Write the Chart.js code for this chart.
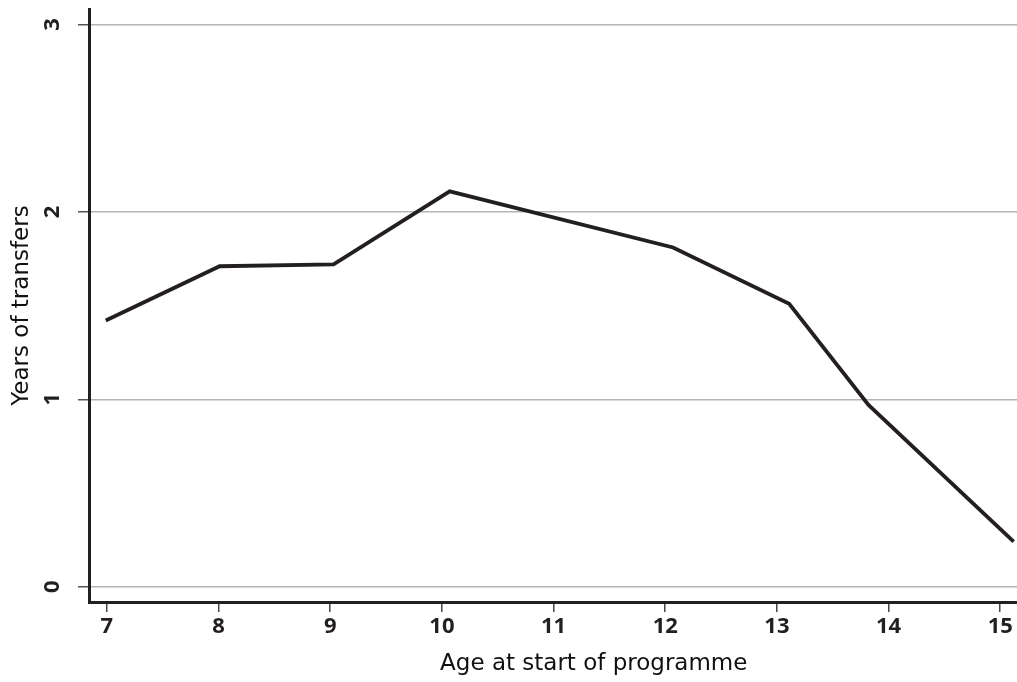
<!DOCTYPE html>
<html>
<head>
<meta charset="utf-8">
<script src="https://cdn.jsdelivr.net/npm/chart.js@4/dist/chart.umd.min.js"></script>
<style>
  html, body { margin: 0; padding: 0; background: #fff; }
  #wrap { width: 1017px; height: 682px; }
</style>
</head>
<body>
<div id="wrap"><canvas id="transfersChart"></canvas></div>
<script>
// values
const ages = [6.99, 8.01, 9.03, 10.07, 12.07, 13.11, 13.82, 15.12];
const years = [1.42, 1.71, 1.72, 2.11, 1.81, 1.51, 0.97, 0.24];
const xTicks = [7, 8, 9, 10, 11, 12, 13, 14, 15];
const yTicks = [0, 1, 2, 3];
const xTitle = 'Age at start of programme';
const yTitle = 'Years of transfers';

const ink = '#231f20';
const tickFont = 'bold 22px "Open Sans"';
const titleFont = '23px "DejaVu Sans"';

// y labels are turned on their side, and the titles sit off-centre, so draw them here
const sideLabels = {
  id: 'sideLabels',
  afterDraw(chart) {
    const { ctx, chartArea, scales } = chart;
    ctx.save();
    ctx.fillStyle = ink;
    ctx.font = tickFont;
    ctx.textAlign = 'center';
    ctx.textBaseline = 'middle';
    yTicks.forEach(v => {
      ctx.save();
      ctx.translate(53, scales.y.getPixelForValue(v));
      ctx.rotate(-Math.PI / 2);
      ctx.fillText(String(v), 0, 0);
      ctx.restore();
    });

    ctx.font = titleFont;
    ctx.fillStyle = '#111';
    ctx.save();
    ctx.translate(22, (chartArea.top + chartArea.bottom) / 2);
    ctx.rotate(-Math.PI / 2);
    ctx.fillText(yTitle, 0, 0);
    ctx.restore();

    ctx.fillText(xTitle, scales.x.getPixelForValue(11.36), 664);
    ctx.restore();
  }
};

new Chart(document.getElementById('transfersChart'), {
  type: 'line',
  data: {
    datasets: [{
      data: ages.map((a, i) => ({ x: a, y: years[i] })),
      borderColor: ink,
      borderWidth: 3.8,
      pointRadius: 0,
      tension: 0,
      fill: false
    }]
  },
  options: {
    responsive: true,
    maintainAspectRatio: false,
    animation: false,
    layout: { padding: { top: 9, left: 0, right: 0, bottom: 0 } },
    plugins: {
      legend: { display: false },
      tooltip: { enabled: false }
    },
    scales: {
      x: {
        type: 'linear',
        min: 6.84,
        max: 15.15,
        afterBuildTicks: scale => { scale.ticks = xTicks.map(v => ({ value: v })); },
        afterFit: scale => { scale.height = 80; },
        grid: { drawOnChartArea: false, drawTicks: true, tickLength: 10, tickColor: '#444', lineWidth: 1.5 },
        border: { display: true, color: ink, width: 3 },
        ticks: { color: ink, font: { family: 'Open Sans', size: 22, weight: 'bold' }, padding: 2, maxRotation: 0, autoSkip: false }
      },
      y: {
        type: 'linear',
        min: -0.082,
        max: 3.083,
        afterBuildTicks: scale => { scale.ticks = yTicks.map(v => ({ value: v })); },
        afterFit: scale => { scale.width = 89; },
        grid: { color: '#b4b4b4', lineWidth: 1.5, drawTicks: true, tickLength: 11, tickColor: '#555' },
        border: { display: true, color: ink, width: 3 },
        ticks: { display: false }
      }
    }
  },
  plugins: [sideLabels]
});
</script>
</body>
</html>
